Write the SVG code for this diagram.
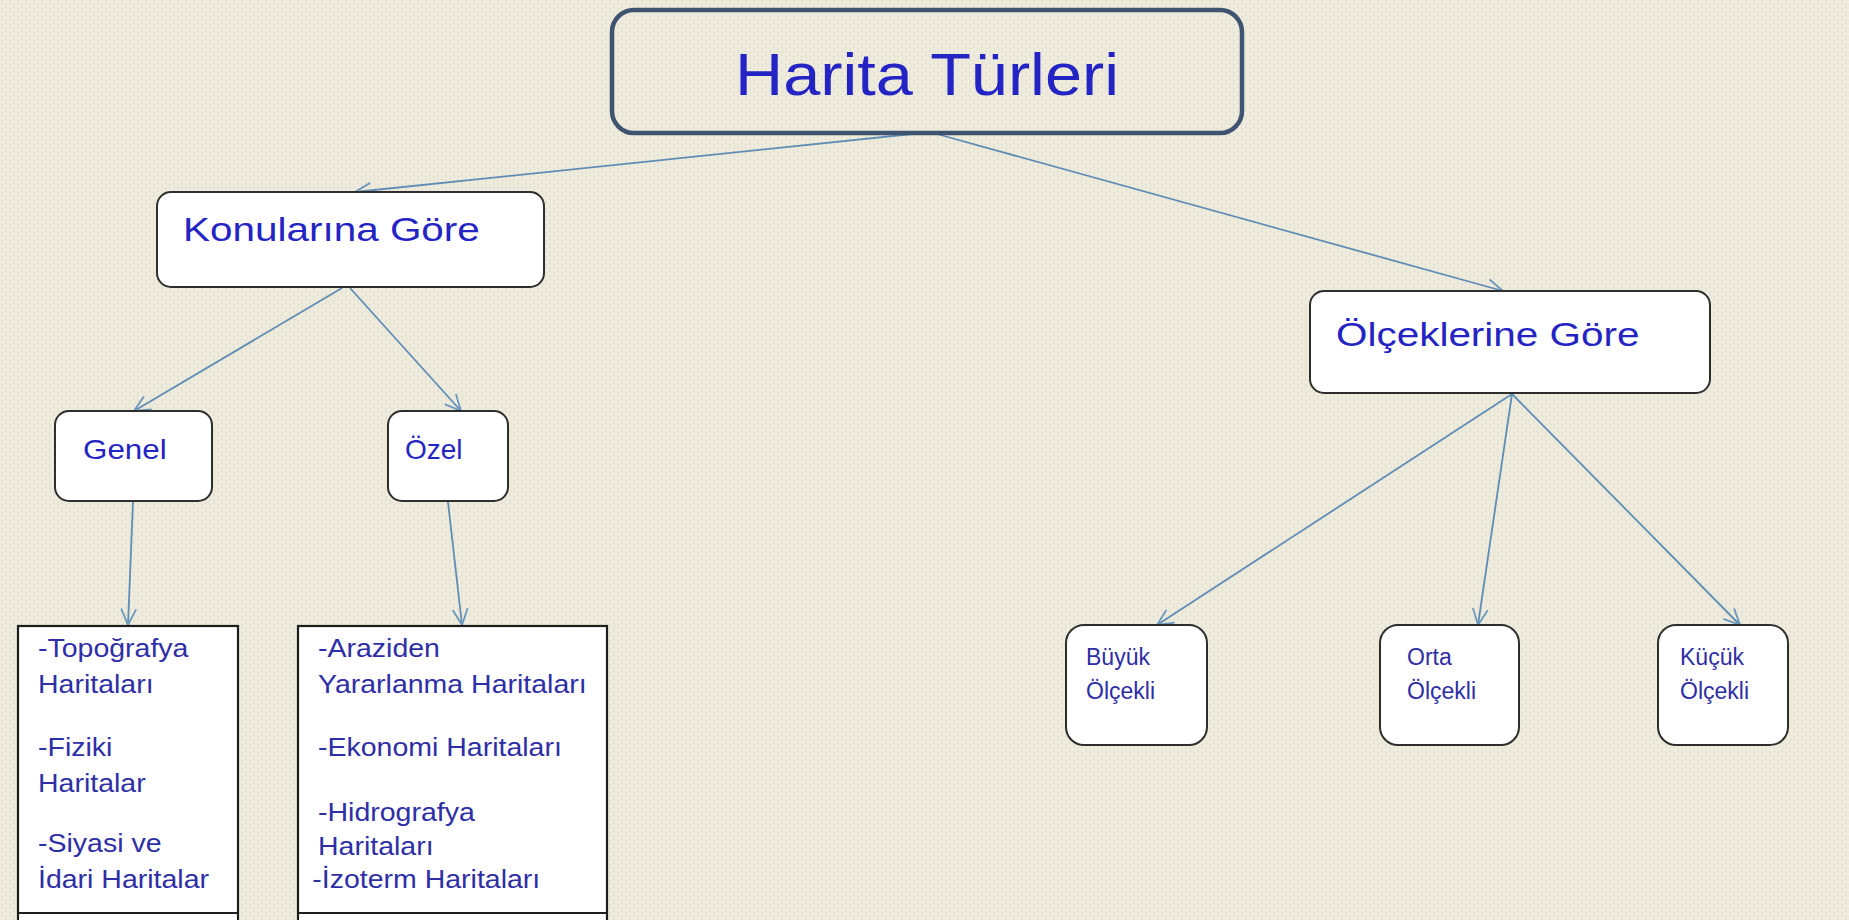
<svg xmlns="http://www.w3.org/2000/svg" width="1849" height="920" viewBox="0 0 1849 920">
<defs>
<pattern id="tex" width="8" height="8" patternUnits="userSpaceOnUse">
<rect width="8" height="8" fill="#edeadb"/>
<path d="M0 2H5M3 6H8" stroke="#f6f4ea" stroke-width="1.2"/>
<path d="M2 0V4M6 4V8" stroke="#dfdbc8" stroke-width="1"/>
</pattern>
<marker id="arr" viewBox="0 0 20 20" refX="18" refY="10" markerWidth="20" markerHeight="20" markerUnits="userSpaceOnUse" orient="auto">
<path d="M2 2.5L18 10L2 17.5" fill="none" stroke="#6b98bf" stroke-width="1.8"/>
</marker>
<style>
.bx{fill:#ffffff;stroke:#2e2e2e;stroke-width:2}
.lst{fill:#ffffff;stroke:#1e1e1e;stroke-width:2.2}
.t{font-family:"Liberation Sans",Arial,sans-serif;fill:#2424c4}
.tl{font-family:"Liberation Sans",Arial,sans-serif;fill:#2e2ea6;font-size:25px}
.ts{font-family:"Liberation Sans",Arial,sans-serif;fill:#2e2ea6;font-size:23px}
.c{fill:none;stroke:#5f8db6;stroke-width:1.8;marker-end:url(#arr)}
</style>
</defs>
<rect width="1849" height="920" fill="url(#tex)"/>

<g id="connectors">
<line class="c" x1="912" y1="134" x2="355" y2="192"/>
<line class="c" x1="937" y1="134" x2="1503" y2="291"/>
<line class="c" x1="342" y1="288" x2="134" y2="411"/>
<line class="c" x1="350" y1="288" x2="461" y2="411"/>
<line class="c" x1="133" y1="502" x2="128" y2="625"/>
<line class="c" x1="448" y1="502" x2="462" y2="625"/>
<line class="c" x1="1512" y1="394" x2="1157" y2="625"/>
<line class="c" x1="1512" y1="394" x2="1478" y2="625"/>
<line class="c" x1="1512" y1="394" x2="1740" y2="625"/>
</g>

<g id="harita-turleri">
<rect x="612" y="10" width="630" height="123" rx="22" fill="none" stroke="#3e5470" stroke-width="4.5"/>
<text class="t" transform="translate(927 95) scale(1.13 1)" font-size="59" text-anchor="middle">Harita Türleri</text>
</g>

<g id="konularina-gore">
<rect class="bx" x="157" y="192" width="387" height="95" rx="14"/>
<text class="t" transform="translate(183 241) scale(1.19 1)" font-size="34">Konularına  Göre</text>
</g>

<g id="olceklerine-gore">
<rect class="bx" x="1310" y="291" width="400" height="102" rx="14"/>
<text class="t" transform="translate(1336 346) scale(1.19 1)" font-size="34">Ölçeklerine Göre</text>
</g>

<g id="genel">
<rect class="bx" x="55" y="411" width="157" height="90" rx="14"/>
<text class="t" transform="translate(83 459) scale(1.12 1)" font-size="28">Genel</text>
</g>

<g id="ozel">
<rect class="bx" x="388" y="411" width="120" height="90" rx="14"/>
<text class="t" x="405" y="459" font-size="28">Özel</text>
</g>

<g id="genel-liste">
<rect class="lst" x="18" y="626" width="220" height="310"/>
<line x1="18" y1="913" x2="238" y2="913" stroke="#1e1e1e" stroke-width="2.2"/>
<g transform="translate(38 0) scale(1.14 1)">
<text class="tl" x="0" y="657">-Topoğrafya</text>
<text class="tl" x="0" y="693">Haritaları</text>
<text class="tl" x="0" y="756">-Fiziki</text>
<text class="tl" x="0" y="792">Haritalar</text>
<text class="tl" x="0" y="852">-Siyasi ve</text>
<text class="tl" x="0" y="888">İdari Haritalar</text>
</g>
</g>

<g id="ozel-liste">
<rect class="lst" x="298" y="626" width="309" height="310"/>
<line x1="298" y1="913" x2="607" y2="913" stroke="#1e1e1e" stroke-width="2.2"/>
<g transform="translate(318 0) scale(1.14 1)">
<text class="tl" x="0" y="657">-Araziden</text>
<text class="tl" x="0" y="693">Yararlanma Haritaları</text>
<text class="tl" x="0" y="756">-Ekonomi Haritaları</text>
<text class="tl" x="0" y="821">-Hidrografya</text>
<text class="tl" x="0" y="855">Haritaları</text>
<text class="tl" x="-5" y="888">-İzoterm Haritaları</text>
</g>
</g>

<g id="buyuk-olcekli">
<rect class="bx" x="1066" y="625" width="141" height="120" rx="18"/>
<text class="ts" x="1086" y="665">Büyük</text>
<text class="ts" x="1086" y="699">Ölçekli</text>
</g>

<g id="orta-olcekli">
<rect class="bx" x="1380" y="625" width="139" height="120" rx="18"/>
<text class="ts" x="1407" y="665">Orta</text>
<text class="ts" x="1407" y="699">Ölçekli</text>
</g>

<g id="kucuk-olcekli">
<rect class="bx" x="1658" y="625" width="130" height="120" rx="18"/>
<text class="ts" x="1680" y="665">Küçük</text>
<text class="ts" x="1680" y="699">Ölçekli</text>
</g>
</svg>
